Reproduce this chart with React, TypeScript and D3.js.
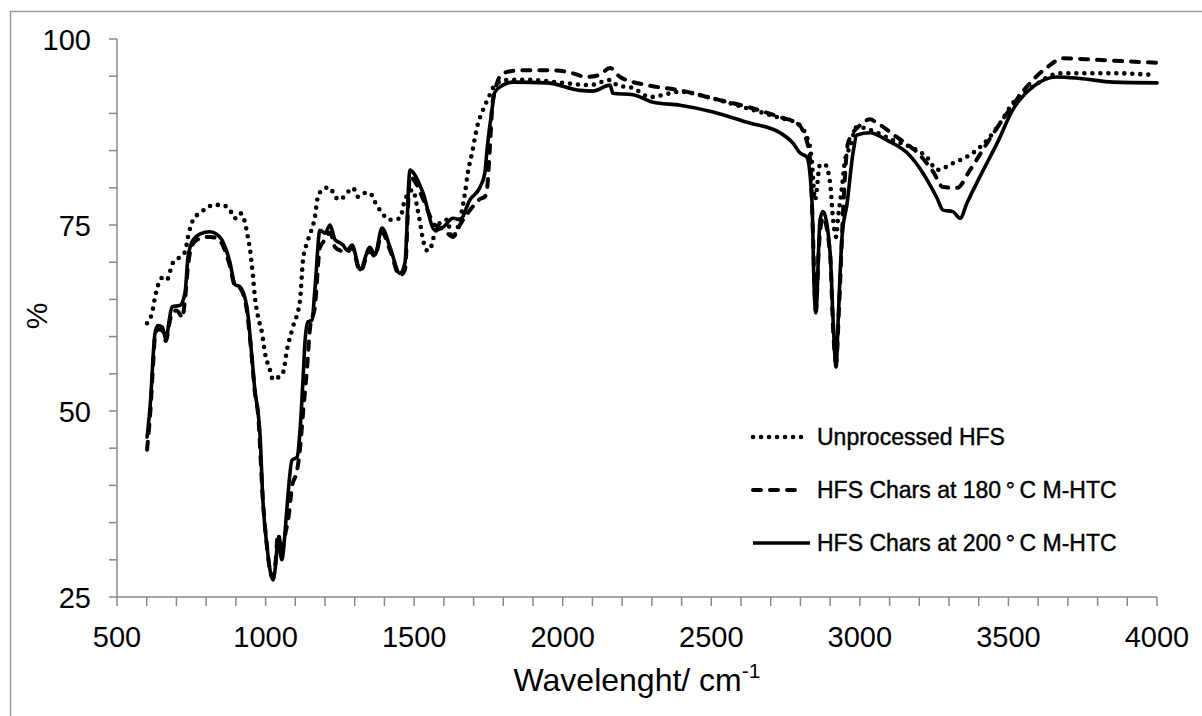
import React from "react";
import * as d3 from "d3";

// FTIR transmittance spectra: [wavenumber (cm-1), transmittance (%)]
const unprocessedHFS: [number, number][] = [
  [601, 61.8], [618, 63.2], [628, 65.3], [638, 66.9], [652, 67.9], [668, 67.6], [678, 68.7], [688, 69.9],
  [712, 70.7], [729, 71.4], [739, 73.4], [756, 75.7], [779, 76.6], [803, 77.3], [823, 77.7], [853, 77.7],
  [880, 77], [897, 75.9], [914, 76.6], [931, 75.3], [937, 74.1], [948, 71.6], [958, 68], [964, 65.3],
  [975, 62.6], [988, 60.5], [998, 57.8], [1015, 55.5], [1025, 54.2], [1042, 54.5], [1059, 55.2], [1072, 58.2],
  [1092, 61.3], [1116, 64.9], [1126, 70.3], [1143, 73], [1166, 76.1], [1176, 78.8], [1190, 79.7], [1200, 80],
  [1217, 80], [1234, 78.8], [1250, 78.4], [1274, 79.3], [1294, 80], [1311, 78.8], [1335, 79.3], [1351, 79.3],
  [1368, 78.1], [1385, 77], [1419, 75.7], [1452, 75.9], [1469, 78.4], [1496, 79.7], [1510, 77.4], [1520, 75.3],
  [1530, 73], [1543, 71.6], [1553, 71.6], [1563, 73], [1587, 75.3], [1611, 75.7], [1627, 73.3], [1637, 73.7],
  [1661, 77], [1671, 79.3], [1681, 82.1], [1695, 84.7], [1712, 88.2], [1732, 90.5], [1749, 92], [1772, 93.8],
  [1812, 94.5], [1890, 94.5], [2001, 94.1], [2092, 93.8], [2159, 94.5], [2183, 93.8], [2237, 93.4], [2294, 92.2],
  [2395, 92.9], [2506, 92], [2620, 90.7], [2731, 89.4], [2788, 88.7], [2822, 86.8], [2832, 85.5], [2839, 83.3],
  [2849, 78.4], [2866, 83.1], [2883, 83.1], [2900, 80.6], [2910, 75.7], [2920, 73.4], [2927, 76.1], [2940, 80.1],
  [2950, 83.7], [2967, 85.5], [2990, 88.2], [3058, 87.4], [3112, 86.4], [3169, 85.5], [3226, 84.1], [3260, 82.4],
  [3313, 83.3], [3381, 84.7], [3428, 86.4], [3472, 88.7], [3515, 91.4], [3583, 93.6], [3673, 95.4], [3852, 95.4],
  [3976, 95.2],
];

const chars180: [number, number][] = [
  [601, 44.8], [604, 46], [614, 51], [621, 56], [628, 60], [638, 61], [652, 60.8], [665, 59.4], [675, 61.5],
  [685, 63.2], [700, 63.5], [712, 63], [719, 62.5], [729, 65], [739, 69.5], [756, 72.5], [780, 73.2], [813, 73.4],
  [830, 73.3], [853, 72.5], [880, 69.5], [897, 66.8], [914, 66.5], [937, 63.5], [954, 57], [964, 52.5], [975, 49.5],
  [991, 38], [1005, 31.7], [1018, 28], [1025, 27.6], [1033, 29.5], [1042, 33.5], [1055, 31], [1064, 33], [1078, 36],
  [1089, 39.8], [1106, 42], [1116, 45], [1126, 49.7], [1140, 56], [1150, 61.3], [1166, 64], [1183, 72], [1200, 73],
  [1217, 74], [1234, 72], [1250, 71.6], [1274, 71.3], [1291, 72], [1318, 68.8], [1351, 71.5], [1368, 70.8],
  [1392, 74], [1419, 71.6], [1452, 68.2], [1469, 69], [1486, 81.5], [1503, 80.8], [1530, 78.5], [1570, 75],
  [1597, 74.5], [1631, 73.4], [1654, 75], [1688, 77], [1722, 78.5], [1738, 78.8], [1745, 79.7], [1755, 85.5],
  [1765, 91.8], [1799, 95.4], [1856, 95.8], [1947, 95.8], [2014, 95.6], [2082, 94.9], [2125, 95.2], [2159, 96.1],
  [2193, 94.9], [2284, 93.8], [2395, 93.1], [2506, 92], [2620, 90.9], [2731, 89.5], [2788, 88.7], [2810, 87.5],
  [2832, 84], [2842, 74], [2849, 65], [2852, 63.5], [2862, 72], [2876, 76], [2900, 71], [2910, 61], [2920, 56.5],
  [2930, 64], [2945, 78], [2960, 86], [3000, 88.4], [3034, 89.2], [3058, 88.7], [3125, 86.8], [3202, 84.4],
  [3246, 82.2], [3280, 80.1], [3327, 80], [3371, 82.4], [3428, 86], [3495, 90], [3562, 93.6], [3630, 96.2],
  [3684, 97.4], [3798, 97.2], [4000, 96.8],
];

const chars200: [number, number][] = [
  [601, 46.5], [604, 47.5], [614, 52], [621, 57], [628, 60.5], [638, 61.5], [652, 61.3], [665, 59.6], [675, 62],
  [685, 64], [712, 64.2], [729, 65.9], [739, 70.7], [756, 73], [780, 73.8], [813, 74.1], [830, 73.9], [853, 73],
  [880, 70], [897, 67], [914, 66.7], [937, 64], [954, 57.3], [964, 52.8], [975, 49.7], [981, 47], [991, 38],
  [1005, 31.7], [1018, 28], [1025, 27.3], [1033, 29], [1042, 32.7], [1055, 30], [1064, 33], [1072, 37],
  [1089, 43.4], [1106, 43.8], [1116, 47.4], [1126, 54.2], [1133, 59.5], [1143, 62], [1156, 62.2], [1166, 66.3],
  [1183, 74.3], [1200, 73.9], [1217, 75], [1234, 73], [1250, 72.6], [1261, 72.3], [1274, 71.6], [1291, 72.3],
  [1318, 69], [1351, 72], [1368, 71], [1392, 74.6], [1419, 72], [1452, 68.5], [1469, 69.9], [1486, 82.4],
  [1503, 81.7], [1530, 79.3], [1570, 74.3], [1597, 74.7], [1631, 75.9], [1654, 75.7], [1688, 78.4], [1722, 80.1],
  [1738, 82], [1745, 85], [1762, 90.5], [1772, 92.9], [1799, 93.8], [1833, 94.2], [1947, 94.1], [2058, 93.1],
  [2102, 93], [2159, 93.8], [2169, 92.7], [2237, 92.5], [2304, 91.5], [2395, 91.1], [2506, 90.2], [2620, 88.8],
  [2731, 87.4], [2775, 86], [2798, 84.7], [2822, 84.1], [2839, 78], [2846, 66.7], [2852, 63.2], [2866, 75.7],
  [2876, 76.8], [2900, 71.2], [2910, 62.2], [2920, 55.9], [2927, 62.2], [2940, 73.4], [2957, 77.9], [2977, 84.7],
  [2990, 87.1], [3034, 87.4], [3091, 86.4], [3159, 84.7], [3212, 82], [3260, 78.6], [3280, 77], [3313, 76.8],
  [3337, 75.9], [3361, 78], [3404, 81.5], [3462, 86], [3515, 90.5], [3583, 93.6], [3663, 94.9], [3741, 94.7],
  [3852, 94.2], [4000, 94.1],
];

const xTickLabels = [500, 1000, 1500, 2000, 2500, 3000, 3500, 4000];
const yTickLabels = [25, 50, 75, 100];

const seriesNames = [
  "Unprocessed HFS",
  "HFS Chars at 180\u2009°\u2009C M-HTC",
  "HFS Chars at 200\u2009°\u2009C M-HTC",
];

const W = 1202;
const H = 716;
const plot = { left: 117, right: 1157, top: 39, bottom: 597 };
const font = "'Liberation Sans', Arial, sans-serif";

const styles = [
  { dash: "0 8", cap: "round" as const, width: 4.6 },
  { dash: "8 9", cap: "round" as const, width: 4 },
  { dash: "none", cap: "round" as const, width: 3.6 },
];

export default function App() {
  const x = d3.scaleLinear().domain([500, 4000]).range([plot.left, plot.right]);
  const y = d3.scaleLinear().domain([25, 100]).range([plot.bottom, plot.top]);
  const line = d3
    .line<[number, number]>()
    .x((d) => x(d[0]))
    .y((d) => y(d[1]))
    .curve(d3.curveMonotoneX);

  const xMinor = d3.range(500, 4001, 100);
  const yMinor = d3.range(25, 101, 5);
  const data = [unprocessedHFS, chars180, chars200];
  const axisColor = "#888";

  const legendX = 753;
  const legendY = [437, 490, 543];

  return (
    <svg width={W} height={H} style={{ position: "absolute", left: 0, top: 0 }}>
      <rect x={0} y={0} width={W} height={H} fill="#fff" />
      <rect x={10.5} y={11.5} width={W + 20} height={H + 20} fill="none" stroke="#999" strokeWidth={1.5} />

      {/* axes */}
      <line x1={plot.left} x2={plot.left} y1={plot.top} y2={plot.bottom} stroke={axisColor} strokeWidth={1.5} />
      <line x1={plot.left} x2={plot.right} y1={plot.bottom} y2={plot.bottom} stroke={axisColor} strokeWidth={1.5} />
      {yMinor.map((v) => (
        <line key={"yt" + v} x1={plot.left - 8} x2={plot.left} y1={y(v)} y2={y(v)} stroke={axisColor} strokeWidth={1.5} />
      ))}
      {xMinor.map((v) => (
        <line key={"xt" + v} x1={x(v)} x2={x(v)} y1={plot.bottom} y2={plot.bottom + 9} stroke={axisColor} strokeWidth={1.5} />
      ))}
      {yTickLabels.map((v) => (
        <text key={"yl" + v} x={91} y={y(v) + 10.5} textAnchor="end" fontFamily={font} fontSize={29} fill="#000">
          {v}
        </text>
      ))}
      {xTickLabels.map((v) => (
        <text key={"xl" + v} x={x(v)} y={647} textAnchor="middle" fontFamily={font} fontSize={29} fill="#000">
          {v}
        </text>
      ))}

      <text x={637} y={691} textAnchor="middle" fontFamily={font} fontSize={32} fill="#000">
        Wavelenght/ cm
        <tspan dy={-13} fontSize={21}>-1</tspan>
      </text>
      <text transform="translate(47,316) rotate(-90)" textAnchor="middle" fontFamily={font} fontSize={30} fill="#000">
        %
      </text>

      {/* spectra */}
      {data.map((d, i) => (
        <path
          key={"s" + i}
          d={line(d) || ""}
          fill="none"
          stroke="#000"
          strokeWidth={styles[i].width}
          strokeDasharray={styles[i].dash}
          strokeLinecap={styles[i].cap}
          strokeLinejoin="round"
        />
      ))}

      {/* legend */}
      {seriesNames.map((name, i) => (
        <g key={"lg" + i}>
          <line
            x1={legendX}
            x2={i === 2 ? 810 : 803}
            y1={legendY[i]}
            y2={legendY[i]}
            stroke="#000"
            strokeWidth={styles[i].width}
            strokeDasharray={styles[i].dash}
            strokeLinecap={i === 2 ? "butt" : styles[i].cap}
          />
          <text
            x={817}
            y={legendY[i] + 8}
            fontFamily={font}
            fontSize={23}
            fill="#000"
            stroke="#000"
            strokeWidth={0.4}
          >
            {name}
          </text>
        </g>
      ))}
    </svg>
  );
}
